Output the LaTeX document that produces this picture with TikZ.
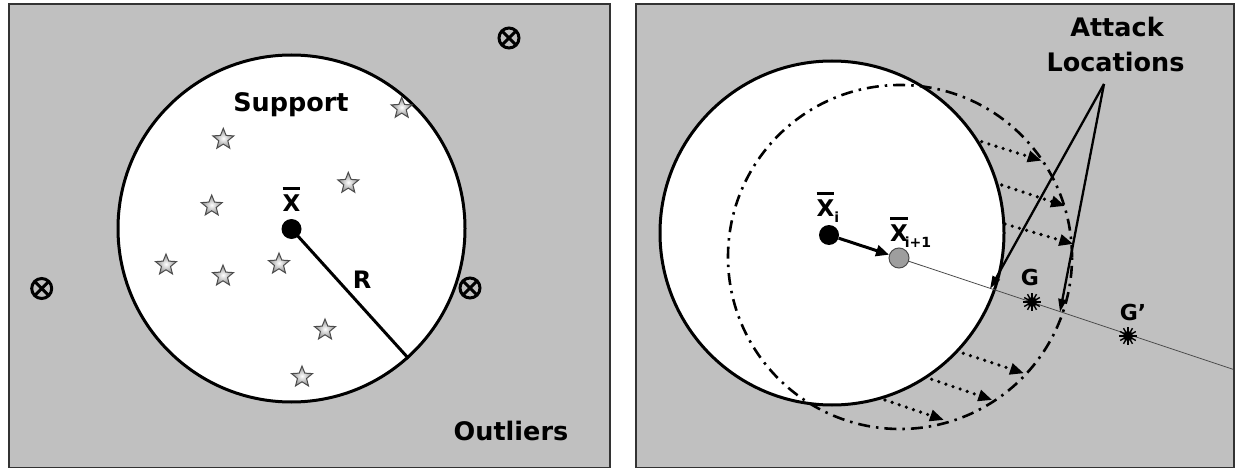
\documentclass[tikz,border=0pt]{standalone}
\usepackage{fontspec}
\setmainfont{DejaVu Sans}
\usetikzlibrary{shapes.geometric,arrows.meta}
\definecolor{panelgray}{RGB}{192,192,192}
\definecolor{dotgray}{RGB}{158,158,158}
\newcommand\barX{\vbox{\hrule height 3pt\kern 4.5pt\hbox{X}}}
\newcommand\subtx[1]{\raisebox{-6pt}{\fontsize{14}{14}\selectfont #1}}
\tikzset{
  panel/.style={rectangle, fill=panelgray, draw=black!80, line width=2pt, inner sep=0pt, anchor=north west},
  bigc/.style={circle, fill=white, draw=black, line width=3pt, inner sep=0pt, minimum size=344pt},
  dashc/.style={circle, draw=black, line width=2.6pt, dash pattern=on 12pt off 6pt on 2.5pt off 6pt, inner sep=0pt, minimum size=344pt},
  bigtxt/.style={font=\fontsize{25.5}{30}\selectfont\bfseries, inner sep=0pt, anchor=base},
  xtxt/.style={font=\fontsize{23}{25}\selectfont\bfseries, inner sep=0pt},
  gtxt/.style={font=\fontsize{22}{24}\selectfont\bfseries, inner sep=0pt, anchor=base},
  bdot/.style={circle, fill=black, inner sep=0pt, minimum size=20pt},
  gdot/.style={circle, fill=dotgray, draw=black!70, line width=1pt, inner sep=0pt, minimum size=20pt},
  starm/.style={star, star points=5, star point ratio=2.3, minimum size=22pt, inner sep=0pt,
                draw=black!70, line width=1pt, inner color=white, outer color=gray!90},
  outl/.style={circle, draw=black, line width=3pt, minimum size=20pt, inner sep=0pt,
               path picture={\draw[line width=3pt]
                 (path picture bounding box.south west) -- (path picture bounding box.north east)
                 (path picture bounding box.north west) -- (path picture bounding box.south east);}},
  sunc/.style={circle, fill=black, inner sep=0pt, minimum size=10pt},
  spike/.style={line width=1.4pt},
  thinline/.style={line width=0.8pt, draw=black!70},
  thickarr/.style={line width=3pt, -{Triangle[length=13pt,width=11pt]}},
  attackarr/.style={line width=2.3pt, -{Triangle[length=13pt,width=8pt]}},
  dotarr/.style={line width=3.6pt, line cap=round, dash pattern=on 0pt off 7.5pt, -{Triangle[length=14pt,width=11pt]}},
}
\begin{document}
\begin{tikzpicture}[x=1pt,y=-1pt]
\useasboundingbox (0,0) rectangle (1235,468);

% ---------------- left panel ----------------
\node[panel, minimum width=601.5pt, minimum height=464pt] (lp) at (7.5,3) {};
\node[bigc, minimum size=347pt] (sup) at (291.5,228.5) {};
\node[bigtxt] (support) at (291,111.5) {Support};
\node[bigtxt] (outliers) at (511,440) {Outliers};

\foreach \i/\px/\py in {1/401.7/108.3, 2/223.3/139.3, 3/348.3/183.3, 4/211.7/206,
                        5/166/265, 6/223/276, 7/279/264, 8/325/330, 9/302/377}
  \node[starm] (st\i) at (\px,\py) {};

\node[bdot] (xb) at (291.5,229) {};
\draw[line width=3pt] (xb.center) -- (sup.-48.8);
\node[xtxt, anchor=base] (xbl) at (291.5,211.5) {\barX};
\node[font=\fontsize{24}{26}\selectfont\bfseries, inner sep=0pt, anchor=base] (rl) at (362,288.5) {R};

\node[outl] (o1) at (509,38) {};
\node[outl] (o2) at (41.7,288.5) {};
\node[outl] (o3) at (470,288) {};

% ---------------- right panel ----------------
\node[panel, minimum width=598pt, minimum height=464pt] (rp) at (635,3) {};
\node[bigc] (cur) at (832,233) {};
\node[dashc] (nxt) at (900,257) {};

\node[gdot] (xi1) at (899,258) {};
\coordinate (edge) at (1233,369.3);
\draw[thinline] (xi1) -- (edge);

\foreach \i/\sx/\sy/\ex/\ey in {1/981.7/141.7/1041.7/160.7, 2/1001.7/185/1065/206, 3/1005/224/1073.3/244,
                                4/963.3/353.3/1024/373.3, 5/931.7/379.3/992.3/400, 6/885/400/944/420}{
  \coordinate (s\i) at (\sx,\sy);
  \coordinate (e\i) at (\ex,\ey);
  \draw[dotarr] (s\i) -- (e\i);
}

\node[bdot] (xi) at (829,235) {};
\draw[thickarr] (xi) -- (xi1);
\node[xtxt, anchor=base west] (xil) at (816.5,216.5) {\barX\subtx{i}};
\node[xtxt, anchor=base west] (xi1l) at (890,241.5) {\barX\kern-3pt\subtx{i+1}};

\node[sunc] (g) at (1032,302) {};
\node[sunc] (gp) at (1128,336) {};
\foreach \a in {0,30,...,330}{
  \draw[spike] (g.center) -- ++(\a:9);
  \draw[spike] (gp.center) -- ++(\a:9);
}
\node[gtxt] (gl) at (1030,285) {G};
\node[gtxt] (gpl) at (1133,320) {G’};

\node[bigtxt] (att) at (1117,37) {Attack};
\node[bigtxt] (loc) at (1115.5,72) {Locations};
\coordinate (apex) at (1104,84);
\coordinate (a1) at (990,289);
\coordinate (a2) at (1060,312);
\draw[attackarr] (apex) -- (a1);
\draw[attackarr] (apex) -- (a2);
\end{tikzpicture}
\end{document}
